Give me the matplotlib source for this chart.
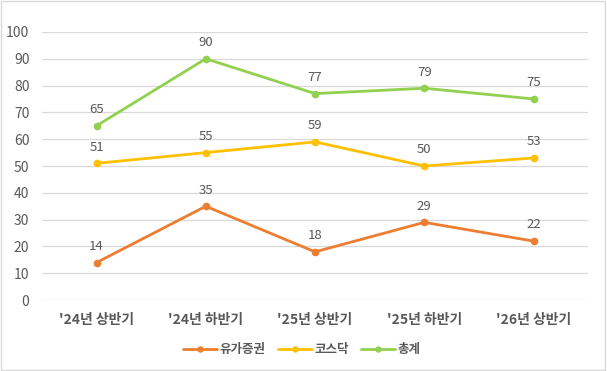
import matplotlib.pyplot as plt
from matplotlib.patches import Rectangle

plt.rcParams['font.family'] = ['Noto Sans CJK KR', 'DejaVu Sans']

categories = ["'24년 상반기", "'24년 하반기", "'25년 상반기", "'25년 하반기", "'26년 상반기"]
stocks = [14, 35, 18, 29, 22]      # 유가증권
kosdaq = [51, 55, 59, 50, 53]      # 코스닥
total = [65, 90, 77, 79, 75]       # 총계

series = [("유가증권", stocks, "#ED7D31"),
          ("코스닥", kosdaq, "#FFC000"),
          ("총계", total, "#92D050")]

text_col = "#595959"

fig = plt.figure(figsize=(6.07, 3.71), dpi=100)
ax = fig.add_axes([0.069, 0.191, 0.9, 0.723])

x = list(range(len(categories)))
for name, vals, col in series:
    ax.plot(x, vals, color=col, lw=2.0, marker="o", ms=4.5, label=name,
            solid_capstyle="round")
    for xi, v in zip(x, vals):
        ax.annotate(str(v), (xi, v), xytext=(0, 7), textcoords="offset points",
                    ha="center", va="bottom", fontsize=9.5, color=text_col)

ax.set_xlim(-0.5, len(categories) - 0.5)
ax.set_ylim(0, 100)
ax.set_yticks(range(0, 101, 10))
ax.set_xticks(x)
ax.set_xticklabels(categories)
ax.tick_params(axis="both", length=0, colors=text_col, labelsize=10)
ax.tick_params(axis="x", pad=9)
ax.tick_params(axis="y", pad=9)
for lab in ax.get_xticklabels():
    lab.set_fontweight("bold")
ax.grid(axis="y", color="#D9D9D9", lw=0.9)
ax.set_axisbelow(True)
for s in ax.spines.values():
    s.set_visible(False)

leg = fig.legend(loc="center", bbox_to_anchor=(0.497, 0.057), ncol=3, frameon=False,
                 fontsize=9, handlelength=2.7, columnspacing=1.0, handletextpad=0.2,
                 markerscale=0.8)
for t in leg.get_texts():
    t.set_color(text_col)
    t.set_fontweight("bold")

fig.patches.append(Rectangle((0.002, 0.003), 0.995, 0.994, transform=fig.transFigure,
                             fill=False, edgecolor="#D9D9D9", lw=1))

fig.savefig("out.png", dpi=100)
